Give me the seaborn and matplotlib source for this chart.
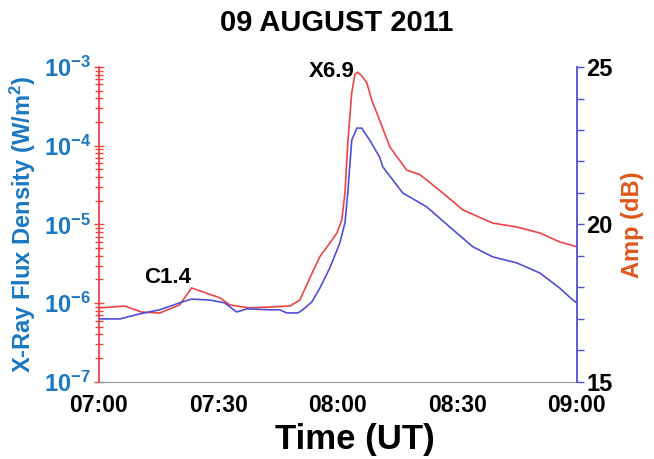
import numpy as np
import pandas as pd
import matplotlib
matplotlib.use("Agg")
import matplotlib.pyplot as plt
import matplotlib.ticker as mticker
import seaborn as sns

# ---- data (minutes after 07:00 UT) ----
flux_time = [0, 6.5, 10.8, 15.3, 20.3, 23.3, 30.4, 32.9, 37.9, 48.0, 50.5, 53.0, 55.5, 58.0,
             59.8, 61.0, 61.8, 62.5, 63.5, 64.3, 65.0, 66.0, 67.3, 68.5, 69.8, 70.5, 73.1,
             77.3, 80.6, 85.6, 91.4, 98.9, 104.9, 110.7, 115.7, 120]
flux_vals = [8.7e-7, 9.2e-7, 7.7e-7, 7.5e-7, 9.5e-7, 1.56e-6, 1.17e-6, 9.5e-7, 8.7e-7, 9.2e-7,
             1.10e-6, 2.1e-6, 3.9e-6, 5.8e-6, 7.8e-6, 1.14e-5, 2.5e-5, 1.08e-4, 4.7e-4, 8.1e-4,
             8.6e-4, 7.7e-4, 6.3e-4, 3.8e-4, 2.6e-4, 2.1e-4, 9.6e-5, 4.9e-5, 4.3e-5, 2.7e-5,
             1.53e-5, 1.04e-5, 9.3e-6, 7.8e-6, 6.0e-6, 5.2e-6]

amp_time = [0, 5.3, 10.3, 15.3, 20.3, 23.3, 27.9, 31.6, 34.6, 37.2, 42.9, 45.4, 47.2, 50.0,
            51.2, 53.5, 55.5, 58.0, 60.5, 61.8, 62.5, 63.5, 64.8, 66.0, 68.0, 70.5, 71.3,
            76.3, 82.3, 88.1, 93.9, 98.9, 104.9, 110.7, 115.7, 119.0, 120]
amp_vals = [17.00, 17.00, 17.16, 17.29, 17.51, 17.63, 17.60, 17.51, 17.22, 17.32, 17.29, 17.29,
            17.19, 17.19, 17.29, 17.54, 17.98, 18.62, 19.41, 20.05, 21.00, 22.68, 23.06, 23.06,
            22.68, 22.14, 21.83, 21.00, 20.56, 19.92, 19.29, 18.97, 18.78, 18.46, 17.98, 17.60,
            17.51]

xtick_pos = [0, 30, 60, 90, 120]
xtick_labels = ["07:00", "07:30", "08:00", "08:30", "09:00"]
title = "09 AUGUST 2011"

flux_df = pd.DataFrame({"t": flux_time, "flux": flux_vals})
amp_df = pd.DataFrame({"t": amp_time, "amp": amp_vals})

sns.set_style("white")
plt.rcParams["font.family"] = ["Liberation Sans", "DejaVu Sans"]
plt.rcParams["font.weight"] = "bold"
plt.rcParams["text.color"] = "black"
plt.rcParams["axes.labelcolor"] = "black"
plt.rcParams["mathtext.fontset"] = "custom"
plt.rcParams["mathtext.rm"] = "Liberation Sans:bold"
plt.rcParams["mathtext.bf"] = "Liberation Sans:bold"
plt.rcParams["mathtext.it"] = "Liberation Sans:bold"

RED = "#ee4444"
BLUE = "#4f4fd8"
LBLUE = "#1a78c2"
ORANGE = "#e0561a"

fig = plt.figure(figsize=(6.54, 4.59), dpi=100)
ax = fig.add_axes([0.151, 0.168, 0.731, 0.686])
ax2 = ax.twinx()

sns.lineplot(data=flux_df, x="t", y="flux", ax=ax, color=RED, lw=1.2)
sns.lineplot(data=amp_df, x="t", y="amp", ax=ax2, color=BLUE, lw=1.2)

ax.set_yscale("log")
ax.set_ylim(1e-7, 1e-3)
ax.set_xlim(0, 120)
ax2.set_ylim(15, 25)

# x axis
ax.set_xticks(xtick_pos)
ax.set_xticklabels(xtick_labels, fontsize=16.5, fontweight="bold", color="black")
ax.xaxis.set_minor_locator(mticker.FixedLocator([15, 45, 75, 105]))
ax.tick_params(axis="x", which="both", direction="out", length=6, width=1, color="#999999", pad=3)
ax.set_xlabel("")
fig.text(0.543, 0.043, "Time (UT)", fontsize=25, fontweight="bold", ha="center", va="center",
         color="black")

# left axis
ax.yaxis.set_major_locator(mticker.LogLocator(base=10, numticks=10))
ax.yaxis.set_minor_locator(mticker.LogLocator(base=10, subs=np.arange(2, 10), numticks=10))
ax.yaxis.set_minor_formatter(mticker.NullFormatter())
ax.yaxis.set_major_formatter(mticker.FuncFormatter(lambda v, p: r"$\mathbf{10^{%d}}$" % round(np.log10(v))))
ax.tick_params(axis="y", which="major", direction="inout", length=7, width=1, color=RED,
               labelcolor=LBLUE, labelsize=17, pad=2)
ax.tick_params(axis="y", which="minor", direction="inout", length=6, width=1, color=RED)
ax.set_ylabel("X-Ray Flux Density (W/m$^{2}$)", fontsize=17, fontweight="bold", color=LBLUE, labelpad=4)

# right axis
ax2.set_yticks([15, 20, 25])
ax2.set_yticklabels(["15", "20", "25"], fontsize=17, fontweight="bold", color="black")
ax2.yaxis.set_minor_locator(mticker.MultipleLocator(1))
ax2.tick_params(axis="y", which="both", direction="out", length=5, width=1, color=BLUE, pad=2)
ax2.set_ylabel("Amp (dB)", fontsize=17, fontweight="bold", color=ORANGE, labelpad=6)
ax2.set_xlabel("")

for a in (ax, ax2):
    a.spines["top"].set_visible(False)
ax.spines["left"].set_color(RED)
ax.spines["left"].set_linewidth(1.3)
ax.spines["bottom"].set_color("#999999")
ax.spines["right"].set_visible(False)
ax2.spines["left"].set_visible(False)
ax2.spines["bottom"].set_visible(False)
ax2.spines["right"].set_color(BLUE)
ax2.spines["right"].set_linewidth(1.3)

ax.text(17.3, 2.15e-6, "C1.4", fontsize=16, fontweight="bold", ha="center", va="center", color="black")
ax.text(58.5, 8.65e-4, "X6.9", fontsize=16, fontweight="bold", ha="center", va="center", color="black")

fig.text(0.515, 0.95, title, fontsize=21, fontweight="bold", ha="center", va="center", color="black")

fig.savefig("out.png", dpi=100)
